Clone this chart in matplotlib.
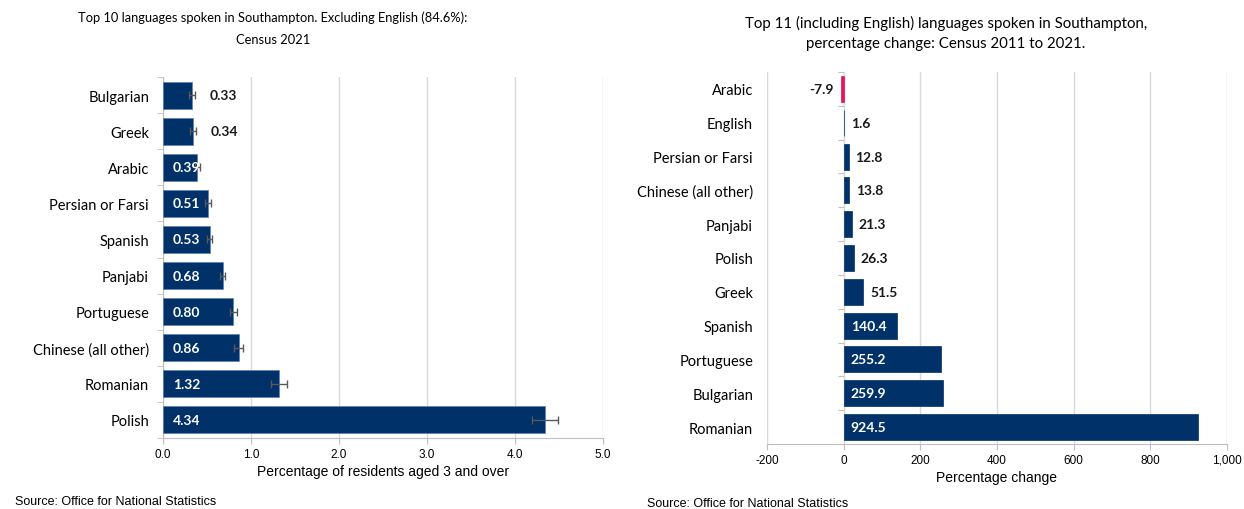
import numpy as np
import matplotlib
matplotlib.use("Agg")
import matplotlib.pyplot as plt

# left chart: top 10 languages excluding English, % of residents aged 3+
langs_2021 = ['Bulgarian', 'Greek', 'Arabic', 'Persian or Farsi', 'Spanish', 'Panjabi',
              'Portuguese', 'Chinese (all other)', 'Romanian', 'Polish']
pct_2021 = [0.33, 0.34, 0.39, 0.51, 0.53, 0.68, 0.80, 0.86, 1.32, 4.34]
pct_err = [0.03, 0.03, 0.03, 0.03, 0.03, 0.03, 0.04, 0.05, 0.09, 0.15]
pct_labels = ['0.33', '0.34', '0.39', '0.51', '0.53', '0.68', '0.80', '0.86', '1.32', '4.34']

# right chart: percentage change 2011 to 2021
langs_change = ['Arabic', 'English', 'Persian or Farsi', 'Chinese (all other)', 'Panjabi',
                'Polish', 'Greek', 'Spanish', 'Portuguese', 'Bulgarian', 'Romanian']
pct_change = [-7.9, 1.6, 12.8, 13.8, 21.3, 26.3, 51.5, 140.4, 255.2, 259.9, 924.5]

navy = '#003169'
pink = '#e3145f'
grid_c = '#d9d9d9'
axis_c = '#bfbfbf'
lab_font = 'Lato'
num_font = 'Liberation Sans'

fig = plt.figure(figsize=(12.44, 5.1), dpi=100)

# ---- left chart
ax1 = fig.add_axes([163/1244, 1-439/510, 440/1244, 361/510])
y1 = np.arange(len(langs_2021))
ax1.barh(y1, pct_2021, height=0.75, color=navy, edgecolor='#5a7fb0', linewidth=0.5, zorder=3)
ax1.errorbar(pct_2021, y1, xerr=pct_err, fmt='none', ecolor='#595959',
             elinewidth=1, capsize=3, capthick=1, zorder=4)
for yy, v, e, t in zip(y1, pct_2021, pct_err, pct_labels):
    if v < 0.36:
        ax1.annotate(t, (v + e, yy), xytext=(11, 0), textcoords='offset points',
                     ha='left', va='center', color='#1a1a1a', fontsize=10,
                     fontweight='bold', family=lab_font, zorder=5)
    else:
        ax1.annotate(t, (0, yy), xytext=(7, 0), textcoords='offset points',
                     ha='left', va='center', color='white', fontsize=10,
                     fontweight='bold', family=lab_font, zorder=5)
ax1.set_xlim(0, 5)
ax1.set_ylim(len(langs_2021) - 0.5, -0.5)
ax1.set_xticks(np.arange(0, 5.01, 1))
ax1.set_xticklabels([f'{v:.1f}' for v in np.arange(0, 5.01, 1)], family=num_font, fontsize=8.5)
ax1.set_yticks(y1)
ax1.set_yticklabels(langs_2021, family=lab_font, fontsize=10.5)
ax1.set_yticks(np.arange(-0.5, len(langs_2021), 1), minor=True)
ax1.tick_params(axis='y', which='major', length=0, pad=10)
ax1.tick_params(axis='y', which='minor', length=4, color=axis_c, direction='out')
ax1.tick_params(axis='x', length=4, color=axis_c, pad=3)
ax1.grid(axis='x', color=grid_c, linewidth=1, zorder=0)
for s in ['top', 'right']:
    ax1.spines[s].set_visible(False)
for s in ['left', 'bottom']:
    ax1.spines[s].set_color(axis_c)
ax1.set_xlabel('Percentage of residents aged 3 and over', family=num_font, fontsize=10, labelpad=3)

fig.text(273/1244, 1-18/510, 'Top 10 languages spoken in Southampton. Excluding English (84.6%):',
         ha='center', va='center', family=lab_font, fontsize=9.3)
fig.text(273/1244, 1-40/510, 'Census 2021', ha='center', va='center', family=lab_font, fontsize=9.3)
fig.text(15/1244, 1-502/510, 'Source: Office for National Statistics', ha='left', va='center',
         family=num_font, fontsize=9)

# ---- right chart
ax2 = fig.add_axes([767/1244, 1-445/510, 460/1244, 372/510])
y2 = np.arange(len(langs_change))
cols = [pink if v < 0 else navy for v in pct_change]
ax2.barh(y2, pct_change, height=0.77, color=cols, edgecolor=cols, linewidth=0.5, zorder=3)
for yy, v in zip(y2, pct_change):
    t = f'{v:.1f}'
    if v < 0:
        ax2.annotate(t, (v, yy), xytext=(-5, 0), textcoords='offset points', ha='right',
                     va='center', color='#1a1a1a', fontsize=10, fontweight='bold', family=lab_font)
    elif v < 100:
        ax2.annotate(t, (v, yy), xytext=(5, 0), textcoords='offset points', ha='left',
                     va='center', color='#1a1a1a', fontsize=10, fontweight='bold', family=lab_font)
    else:
        ax2.annotate(t, (0, yy), xytext=(5, 0), textcoords='offset points', ha='left',
                     va='center', color='white', fontsize=10, fontweight='bold', family=lab_font)
ax2.set_xlim(-200, 1000)
ax2.set_ylim(len(langs_change) - 0.5, -0.5)
xt = np.arange(-200, 1001, 200)
ax2.set_xticks(xt)
ax2.set_xticklabels([f'{v:,}' for v in xt], family=num_font, fontsize=8.5)
ax2.set_yticks(y2)
ax2.set_yticklabels(langs_change, family=lab_font, fontsize=10.5)
ax2.tick_params(axis='y', which='major', length=0, pad=10)
ax2.tick_params(axis='x', length=4, color=axis_c, pad=3)
ax2.grid(axis='x', color=grid_c, linewidth=1, zorder=0)
for s in ['top', 'right']:
    ax2.spines[s].set_visible(False)
ax2.spines['left'].set_color(grid_c)
ax2.spines['bottom'].set_color(axis_c)
# zero axis with category tick marks
sec = ax2.secondary_yaxis(200/1200)
sec.set_ylim(ax2.get_ylim())
sec.set_yticks(np.arange(-0.5, len(langs_change), 1))
sec.set_yticklabels([])
sec.tick_params(length=4, color=axis_c)
sec.spines['left'].set_color(axis_c)
ax2.set_xlabel('Percentage change', family=num_font, fontsize=10, labelpad=3)

fig.text(946/1244, 1-23/510, 'Top 11 (including English) languages spoken in Southampton,',
         ha='center', va='center', family=lab_font, fontsize=10.8)
fig.text(946/1244, 1-44/510, 'percentage change: Census 2011 to 2021.',
         ha='center', va='center', family=lab_font, fontsize=10.8)
fig.text(647/1244, 1-504/510, 'Source: Office for National Statistics', ha='left', va='center',
         family=num_font, fontsize=9)

fig.savefig('out.png', dpi=100)
